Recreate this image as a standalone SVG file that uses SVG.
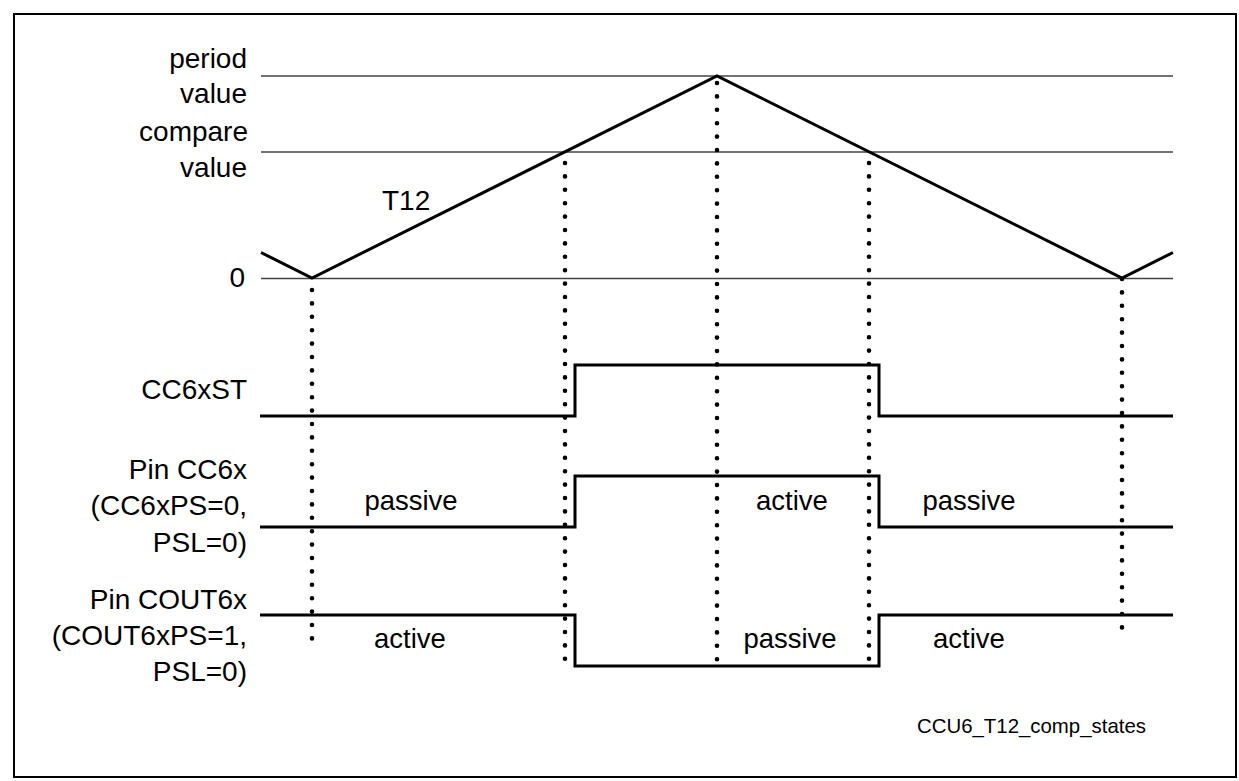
<svg xmlns="http://www.w3.org/2000/svg" width="1239" height="781" viewBox="0 0 1239 781">
<style>
text{font-family:"Liberation Sans",Arial,sans-serif;font-size:28px;fill:#000}
.lbl{text-anchor:end}
.st{text-anchor:middle;font-size:27.5px}
.ref{stroke:#444;stroke-width:1.5;fill:none}
.sig{stroke:#000;stroke-width:3;fill:none;stroke-linejoin:miter}
.dot{stroke:#000;stroke-width:4.6;stroke-linecap:round;stroke-dasharray:0 13.4;fill:none}
</style>
<rect x="14" y="14" width="1222" height="763" fill="#fff" stroke="#000" stroke-width="2"/>
<g id="reference-lines">
<line class="ref" x1="261" y1="76" x2="1173" y2="76"/>
<line class="ref" x1="261" y1="152" x2="1173" y2="152"/>
<line class="ref" x1="261" y1="278.5" x2="1173" y2="278.5"/>
</g>
<g id="labels">
<text class="lbl" x="247" y="68">period</text>
<text class="lbl" x="247" y="103">value</text>
<text class="lbl" x="248" y="141">compare</text>
<text class="lbl" x="247" y="177">value</text>
<text class="lbl" x="245" y="287">0</text>
<text class="lbl" x="247" y="399">CC6xST</text>
<text class="lbl" x="247" y="479">Pin CC6x</text>
<text class="lbl" x="247" y="515">(CC6xPS=0,</text>
<text class="lbl" x="247" y="552">PSL=0)</text>
<text class="lbl" x="247" y="609">Pin COUT6x</text>
<text class="lbl" x="247" y="645">(COUT6xPS=1,</text>
<text class="lbl" x="247" y="681">PSL=0)</text>
</g>
<g id="t12">
<polyline class="sig" points="261,252.5 312,278 717,76 1122,278 1173,252.5"/>
<text x="382" y="210">T12</text>
</g>
<g id="connectors">
<line class="dot" x1="312" y1="290" x2="312" y2="639"/>
<line class="dot" x1="565" y1="163" x2="565" y2="660"/>
<line class="dot" x1="717" y1="83" x2="717" y2="660"/>
<line class="dot" x1="869" y1="163" x2="869" y2="660"/>
<line class="dot" x1="1122" y1="279" x2="1122" y2="628"/>
</g>
<g id="cc6xst">
<polyline class="sig" points="260,416 575,416 575,365 879,365 879,416 1173,416"/>
</g>
<g id="pin-cc6x">
<polyline class="sig" points="260,527 575,527 575,476 879,476 879,527 1173,527"/>
<text class="st" x="411" y="510">passive</text>
<text class="st" x="792" y="510">active</text>
<text class="st" x="969" y="510">passive</text>
</g>
<g id="pin-cout6x">
<polyline class="sig" points="260,615 575,615 575,666 879,666 879,615 1173,615"/>
<text class="st" x="410" y="648">active</text>
<text class="st" x="790" y="648">passive</text>
<text class="st" x="969" y="648">active</text>
</g>
<g id="caption">
<text x="917" y="733" style="font-size:20.4px">CCU6_T12_comp_states</text>
</g>
</svg>
